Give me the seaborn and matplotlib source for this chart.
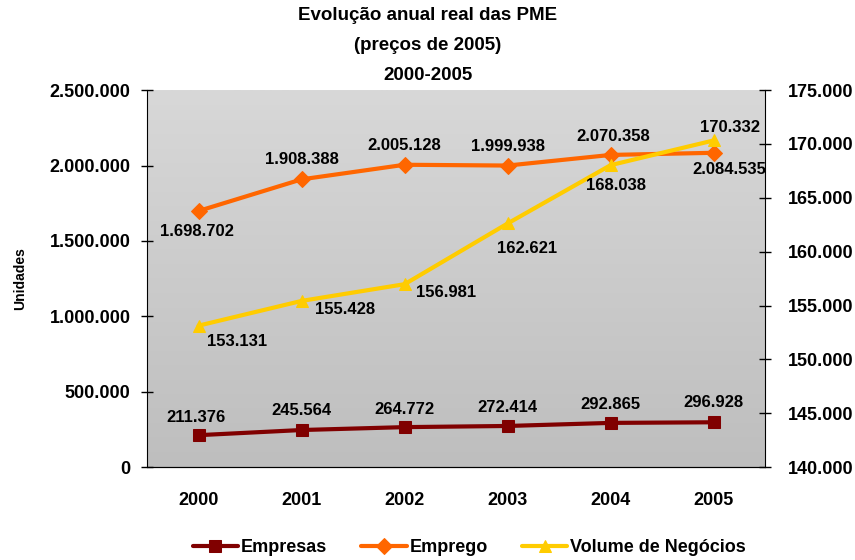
import numpy as np
import pandas as pd
import matplotlib
matplotlib.use("Agg")
import matplotlib.pyplot as plt
from matplotlib.colors import LinearSegmentedColormap
from matplotlib.ticker import FuncFormatter, MultipleLocator
import seaborn as sns

# values
years = [2000, 2001, 2002, 2003, 2004, 2005]
empresas = [211376, 245564, 264772, 272414, 292865, 296928]
emprego = [1698702, 1908388, 2005128, 1999938, 2070358, 2084535]
volume = [153131, 155428, 156981, 162621, 168038, 170332]

# label offsets (points) for each data label, like the Excel layout
off_empresas = [(-2, 13), (0, 14), (0, 13), (0, 13), (0, 13), (0, 14)]
off_emprego = [(-1.5, -15), (0, 14), (0, 14), (0, 14), (2, 13), (11, -12)]
off_volume = [(28, -11.5), (31, -6.5), (30, -6), (14, -18), (4, -15), (12, 9)]

sns.set_style("white")
plt.rcParams['font.family'] = ['Liberation Sans', 'DejaVu Sans']
plt.rcParams['font.weight'] = 'bold'
plt.rcParams['text.color'] = 'black'
plt.rcParams['axes.labelcolor'] = 'black'
plt.rcParams['xtick.color'] = 'black'
plt.rcParams['ytick.color'] = 'black'

df = pd.DataFrame({'ano': years, 'Empresas': empresas,
                   'Emprego': emprego, 'Volume': volume})

fig = plt.figure(figsize=(8.55, 5.6), dpi=100)
ax = fig.add_axes([0.172, 0.166, 0.723, 0.673])
ax2 = ax.twinx()

# grey gradient background
grad = np.linspace(0, 1, 256).reshape(-1, 1)
cmap = LinearSegmentedColormap.from_list('g', ['#d8d8d8', '#bebebe'])
ax.imshow(grad, extent=[0, 1, 0, 1], transform=ax.transAxes, aspect='auto',
          cmap=cmap, zorder=0)

c_emp, c_empr, c_vol = '#800000', '#ff6600', '#ffcc00'

sns.lineplot(data=df, x='ano', y='Empresas', ax=ax, color=c_emp, lw=3,
             marker='s', markersize=8, markeredgecolor=c_emp, zorder=3)
sns.lineplot(data=df, x='ano', y='Emprego', ax=ax, color=c_empr, lw=3,
             marker='D', markersize=8, markeredgecolor=c_empr, zorder=3)
sns.lineplot(data=df, x='ano', y='Volume', ax=ax2, color=c_vol, lw=3,
             marker='^', markersize=9, markeredgecolor=c_vol, zorder=3)

fmt = lambda v: f"{v:,.0f}".replace(",", ".")

for vals, offs, a in [(empresas, off_empresas, ax), (emprego, off_emprego, ax),
                      (volume, off_volume, ax2)]:
    for x, v, o in zip(years, vals, offs):
        a.annotate(fmt(v), (x, v), xytext=o, textcoords='offset points',
                   ha='center', va='center', fontsize=12, fontweight='bold',
                   color='black')

ax.set_xlim(1999.5, 2005.5)
ax.set_ylim(0, 2500000)
ax2.set_ylim(140000, 175000)
ax.yaxis.set_major_locator(MultipleLocator(500000))
ax2.yaxis.set_major_locator(MultipleLocator(5000))
ax.yaxis.set_major_formatter(FuncFormatter(lambda v, p: fmt(v)))
ax2.yaxis.set_major_formatter(FuncFormatter(lambda v, p: fmt(v)))

ax.set_xticks(years)
ax.set_xticks([y + 0.5 for y in [1999] + years], minor=True)
ax.tick_params(axis='x', which='major', length=0, pad=18, labelsize=13)
ax.tick_params(axis='x', which='minor', length=6, width=1, direction='out', color='black')
ax.tick_params(axis='y', length=8, width=1, direction='inout', labelsize=13, pad=8, color='black')
ax2.tick_params(axis='y', length=8, width=1, direction='inout', labelsize=13, pad=12, color='black')
for lbl in ax.get_xticklabels() + ax.get_yticklabels() + ax2.get_yticklabels():
    lbl.set_fontweight('bold')

for a in (ax, ax2):
    a.spines['top'].set_visible(False)
    a.spines['left'].set_color('black')
    a.spines['right'].set_color('black')
    a.spines['bottom'].set_color('black')
    a.set_xlabel('')
    a.grid(False)
ax.spines['right'].set_visible(False)
ax2.spines['left'].set_visible(False)
ax2.set_ylabel('')
ax.set_ylabel('Unidades', fontsize=10, fontweight='bold', labelpad=16)

fig.text(0.5, 0.988, 'Evolução anual real das PME\n(preços de 2005)\n2000-2005',
         ha='center', va='top', fontsize=13.5, fontweight='bold', linespacing=2.0)

handles = [ax.get_lines()[0], ax.get_lines()[1], ax2.get_lines()[0]]
fig.legend(handles, ['Empresas', 'Emprego', 'Volume de Negócios'],
           loc='lower center', bbox_to_anchor=(0.549, -0.022), ncol=3, frameon=False,
           fontsize=13, handlelength=2.5, columnspacing=1.9, handletextpad=0.17)

fig.savefig('out.png', dpi=100)
